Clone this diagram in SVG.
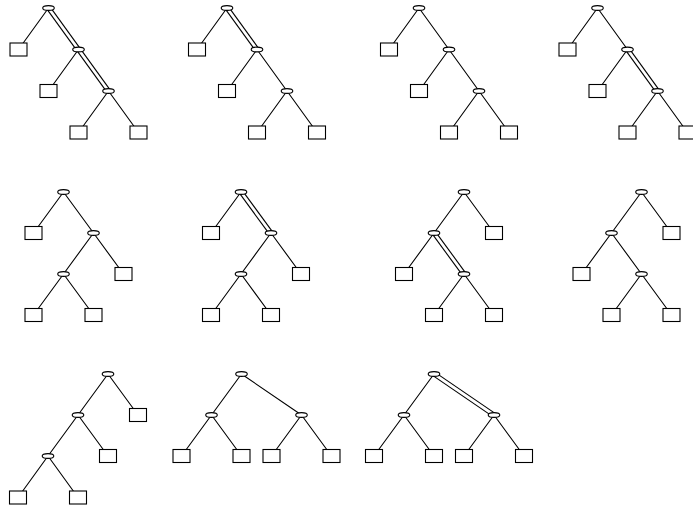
<svg xmlns="http://www.w3.org/2000/svg" width="693" height="511" viewBox="0 0 693 511">
<style>
.e{stroke:#000;stroke-width:1.1;fill:none}
.d{stroke:#000;stroke-width:5;fill:none}
.di{stroke:#fff;stroke-width:2.8;fill:none}
.n{fill:#fff;stroke:#000;stroke-width:1.1}
.l{fill:#fff;stroke:#000;stroke-width:1.1}
</style>
<rect width="693" height="511" fill="#fff"/>
<g id="connectors">
<path class="e" d="M48.5 8L18.5 49.5M78.5 49.5L48.5 91M108.5 91L78.5 132.5M108.5 91L138.5 132.5"/>
<path class="d" d="M48.5 8L78.5 49.5L108.5 91"/>
<path class="di" d="M48.5 8L78.5 49.5L108.5 91"/>
<path class="e" d="M227 8L197 49.5M257 49.5L227 91M257 49.5L287 91M287 91L257 132.5M287 91L317 132.5"/>
<path class="d" d="M227 8L257 49.5"/>
<path class="di" d="M227 8L257 49.5"/>
<path class="e" d="M419 8L389 49.5M419 8L449 49.5M449 49.5L419 91M449 49.5L479 91M479 91L449 132.5M479 91L509 132.5"/>
<path class="e" d="M597.5 8L567.5 49.5M597.5 8L627.5 49.5M627.5 49.5L597.5 91M657.5 91L627.5 132.5M657.5 91L687.5 132.5"/>
<path class="d" d="M627.5 49.5L657.5 91"/>
<path class="di" d="M627.5 49.5L657.5 91"/>
<path class="e" d="M63.5 192L33.5 233M63.5 192L93.5 233M93.5 233L63.5 274M93.5 233L123.5 274M63.5 274L33.5 315M63.5 274L93.5 315"/>
<path class="e" d="M241 192L211 233M271 233L241 274M271 233L301 274M241 274L211 315M241 274L271 315"/>
<path class="d" d="M241 192L271 233"/>
<path class="di" d="M241 192L271 233"/>
<path class="e" d="M464 192L434 233M464 192L494 233M434 233L404 274M464 274L434 315M464 274L494 315"/>
<path class="d" d="M434 233L464 274"/>
<path class="di" d="M434 233L464 274"/>
<path class="e" d="M641.5 192L611.5 233M641.5 192L671.5 233M611.5 233L581.5 274M611.5 233L641.5 274M641.5 274L611.5 315M641.5 274L671.5 315"/>
<path class="e" d="M108 374L78 415M108 374L138 415M78 415L48 456M78 415L108 456M48 456L18 497.5M48 456L78 497.5"/>
<path class="e" d="M241.5 374L211.5 415M241.5 374L301.5 415M211.5 415L181.5 456M211.5 415L241.5 456M301.5 415L271.5 456M301.5 415L331.5 456"/>
<path class="e" d="M434 374L404 415M404 415L374 456M404 415L434 456M494 415L464 456M494 415L524 456"/>
<path class="d" d="M434 374L494 415"/>
<path class="di" d="M434 374L494 415"/>
</g>
<g id="t1-r"><ellipse class="n" cx="48.5" cy="8" rx="5.8" ry="2.4"/></g>
<g id="t1-a"><ellipse class="n" cx="78.5" cy="49.5" rx="5.8" ry="2.4"/></g>
<g id="t1-b"><ellipse class="n" cx="108.5" cy="91" rx="5.8" ry="2.4"/></g>
<g id="t1-l1"><rect class="l" x="10" y="43" width="17" height="13"/></g>
<g id="t1-l2"><rect class="l" x="40" y="84.5" width="17" height="13"/></g>
<g id="t1-l3"><rect class="l" x="70" y="126" width="17" height="13"/></g>
<g id="t1-l4"><rect class="l" x="130" y="126" width="17" height="13"/></g>
<g id="t2-r"><ellipse class="n" cx="227" cy="8" rx="5.8" ry="2.4"/></g>
<g id="t2-a"><ellipse class="n" cx="257" cy="49.5" rx="5.8" ry="2.4"/></g>
<g id="t2-b"><ellipse class="n" cx="287" cy="91" rx="5.8" ry="2.4"/></g>
<g id="t2-l1"><rect class="l" x="188.5" y="43" width="17" height="13"/></g>
<g id="t2-l2"><rect class="l" x="218.5" y="84.5" width="17" height="13"/></g>
<g id="t2-l3"><rect class="l" x="248.5" y="126" width="17" height="13"/></g>
<g id="t2-l4"><rect class="l" x="308.5" y="126" width="17" height="13"/></g>
<g id="t3-r"><ellipse class="n" cx="419" cy="8" rx="5.8" ry="2.4"/></g>
<g id="t3-a"><ellipse class="n" cx="449" cy="49.5" rx="5.8" ry="2.4"/></g>
<g id="t3-b"><ellipse class="n" cx="479" cy="91" rx="5.8" ry="2.4"/></g>
<g id="t3-l1"><rect class="l" x="380.5" y="43" width="17" height="13"/></g>
<g id="t3-l2"><rect class="l" x="410.5" y="84.5" width="17" height="13"/></g>
<g id="t3-l3"><rect class="l" x="440.5" y="126" width="17" height="13"/></g>
<g id="t3-l4"><rect class="l" x="500.5" y="126" width="17" height="13"/></g>
<g id="t4-r"><ellipse class="n" cx="597.5" cy="8" rx="5.8" ry="2.4"/></g>
<g id="t4-a"><ellipse class="n" cx="627.5" cy="49.5" rx="5.8" ry="2.4"/></g>
<g id="t4-b"><ellipse class="n" cx="657.5" cy="91" rx="5.8" ry="2.4"/></g>
<g id="t4-l1"><rect class="l" x="559" y="43" width="17" height="13"/></g>
<g id="t4-l2"><rect class="l" x="589" y="84.5" width="17" height="13"/></g>
<g id="t4-l3"><rect class="l" x="619" y="126" width="17" height="13"/></g>
<g id="t4-l4"><rect class="l" x="679" y="126" width="17" height="13"/></g>
<g id="t5-r"><ellipse class="n" cx="63.5" cy="192" rx="5.8" ry="2.4"/></g>
<g id="t5-a"><ellipse class="n" cx="93.5" cy="233" rx="5.8" ry="2.4"/></g>
<g id="t5-b"><ellipse class="n" cx="63.5" cy="274" rx="5.8" ry="2.4"/></g>
<g id="t5-l1"><rect class="l" x="25" y="226.5" width="17" height="13"/></g>
<g id="t5-l2"><rect class="l" x="115" y="267.5" width="17" height="13"/></g>
<g id="t5-l3"><rect class="l" x="25" y="308.5" width="17" height="13"/></g>
<g id="t5-l4"><rect class="l" x="85" y="308.5" width="17" height="13"/></g>
<g id="t6-r"><ellipse class="n" cx="241" cy="192" rx="5.8" ry="2.4"/></g>
<g id="t6-a"><ellipse class="n" cx="271" cy="233" rx="5.8" ry="2.4"/></g>
<g id="t6-b"><ellipse class="n" cx="241" cy="274" rx="5.8" ry="2.4"/></g>
<g id="t6-l1"><rect class="l" x="202.5" y="226.5" width="17" height="13"/></g>
<g id="t6-l2"><rect class="l" x="292.5" y="267.5" width="17" height="13"/></g>
<g id="t6-l3"><rect class="l" x="202.5" y="308.5" width="17" height="13"/></g>
<g id="t6-l4"><rect class="l" x="262.5" y="308.5" width="17" height="13"/></g>
<g id="t7-r"><ellipse class="n" cx="464" cy="192" rx="5.8" ry="2.4"/></g>
<g id="t7-a"><ellipse class="n" cx="434" cy="233" rx="5.8" ry="2.4"/></g>
<g id="t7-b"><ellipse class="n" cx="464" cy="274" rx="5.8" ry="2.4"/></g>
<g id="t7-l1"><rect class="l" x="485.5" y="226.5" width="17" height="13"/></g>
<g id="t7-l2"><rect class="l" x="395.5" y="267.5" width="17" height="13"/></g>
<g id="t7-l3"><rect class="l" x="425.5" y="308.5" width="17" height="13"/></g>
<g id="t7-l4"><rect class="l" x="485.5" y="308.5" width="17" height="13"/></g>
<g id="t8-r"><ellipse class="n" cx="641.5" cy="192" rx="5.8" ry="2.4"/></g>
<g id="t8-a"><ellipse class="n" cx="611.5" cy="233" rx="5.8" ry="2.4"/></g>
<g id="t8-b"><ellipse class="n" cx="641.5" cy="274" rx="5.8" ry="2.4"/></g>
<g id="t8-l1"><rect class="l" x="663" y="226.5" width="17" height="13"/></g>
<g id="t8-l2"><rect class="l" x="573" y="267.5" width="17" height="13"/></g>
<g id="t8-l3"><rect class="l" x="603" y="308.5" width="17" height="13"/></g>
<g id="t8-l4"><rect class="l" x="663" y="308.5" width="17" height="13"/></g>
<g id="t9-r"><ellipse class="n" cx="108" cy="374" rx="5.8" ry="2.4"/></g>
<g id="t9-a"><ellipse class="n" cx="78" cy="415" rx="5.8" ry="2.4"/></g>
<g id="t9-b"><ellipse class="n" cx="48" cy="456" rx="5.8" ry="2.4"/></g>
<g id="t9-l1"><rect class="l" x="129.5" y="408.5" width="17" height="13"/></g>
<g id="t9-l2"><rect class="l" x="99.5" y="449.5" width="17" height="13"/></g>
<g id="t9-l3"><rect class="l" x="9.5" y="491" width="17" height="13"/></g>
<g id="t9-l4"><rect class="l" x="69.5" y="491" width="17" height="13"/></g>
<g id="t10-r"><ellipse class="n" cx="241.5" cy="374" rx="5.8" ry="2.4"/></g>
<g id="t10-a"><ellipse class="n" cx="211.5" cy="415" rx="5.8" ry="2.4"/></g>
<g id="t10-c"><ellipse class="n" cx="301.5" cy="415" rx="5.8" ry="2.4"/></g>
<g id="t10-l1"><rect class="l" x="173" y="449.5" width="17" height="13"/></g>
<g id="t10-l2"><rect class="l" x="233" y="449.5" width="17" height="13"/></g>
<g id="t10-l3"><rect class="l" x="263" y="449.5" width="17" height="13"/></g>
<g id="t10-l4"><rect class="l" x="323" y="449.5" width="17" height="13"/></g>
<g id="t11-r"><ellipse class="n" cx="434" cy="374" rx="5.8" ry="2.4"/></g>
<g id="t11-a"><ellipse class="n" cx="404" cy="415" rx="5.8" ry="2.4"/></g>
<g id="t11-c"><ellipse class="n" cx="494" cy="415" rx="5.8" ry="2.4"/></g>
<g id="t11-l1"><rect class="l" x="365.5" y="449.5" width="17" height="13"/></g>
<g id="t11-l2"><rect class="l" x="425.5" y="449.5" width="17" height="13"/></g>
<g id="t11-l3"><rect class="l" x="455.5" y="449.5" width="17" height="13"/></g>
<g id="t11-l4"><rect class="l" x="515.5" y="449.5" width="17" height="13"/></g>
</svg>
